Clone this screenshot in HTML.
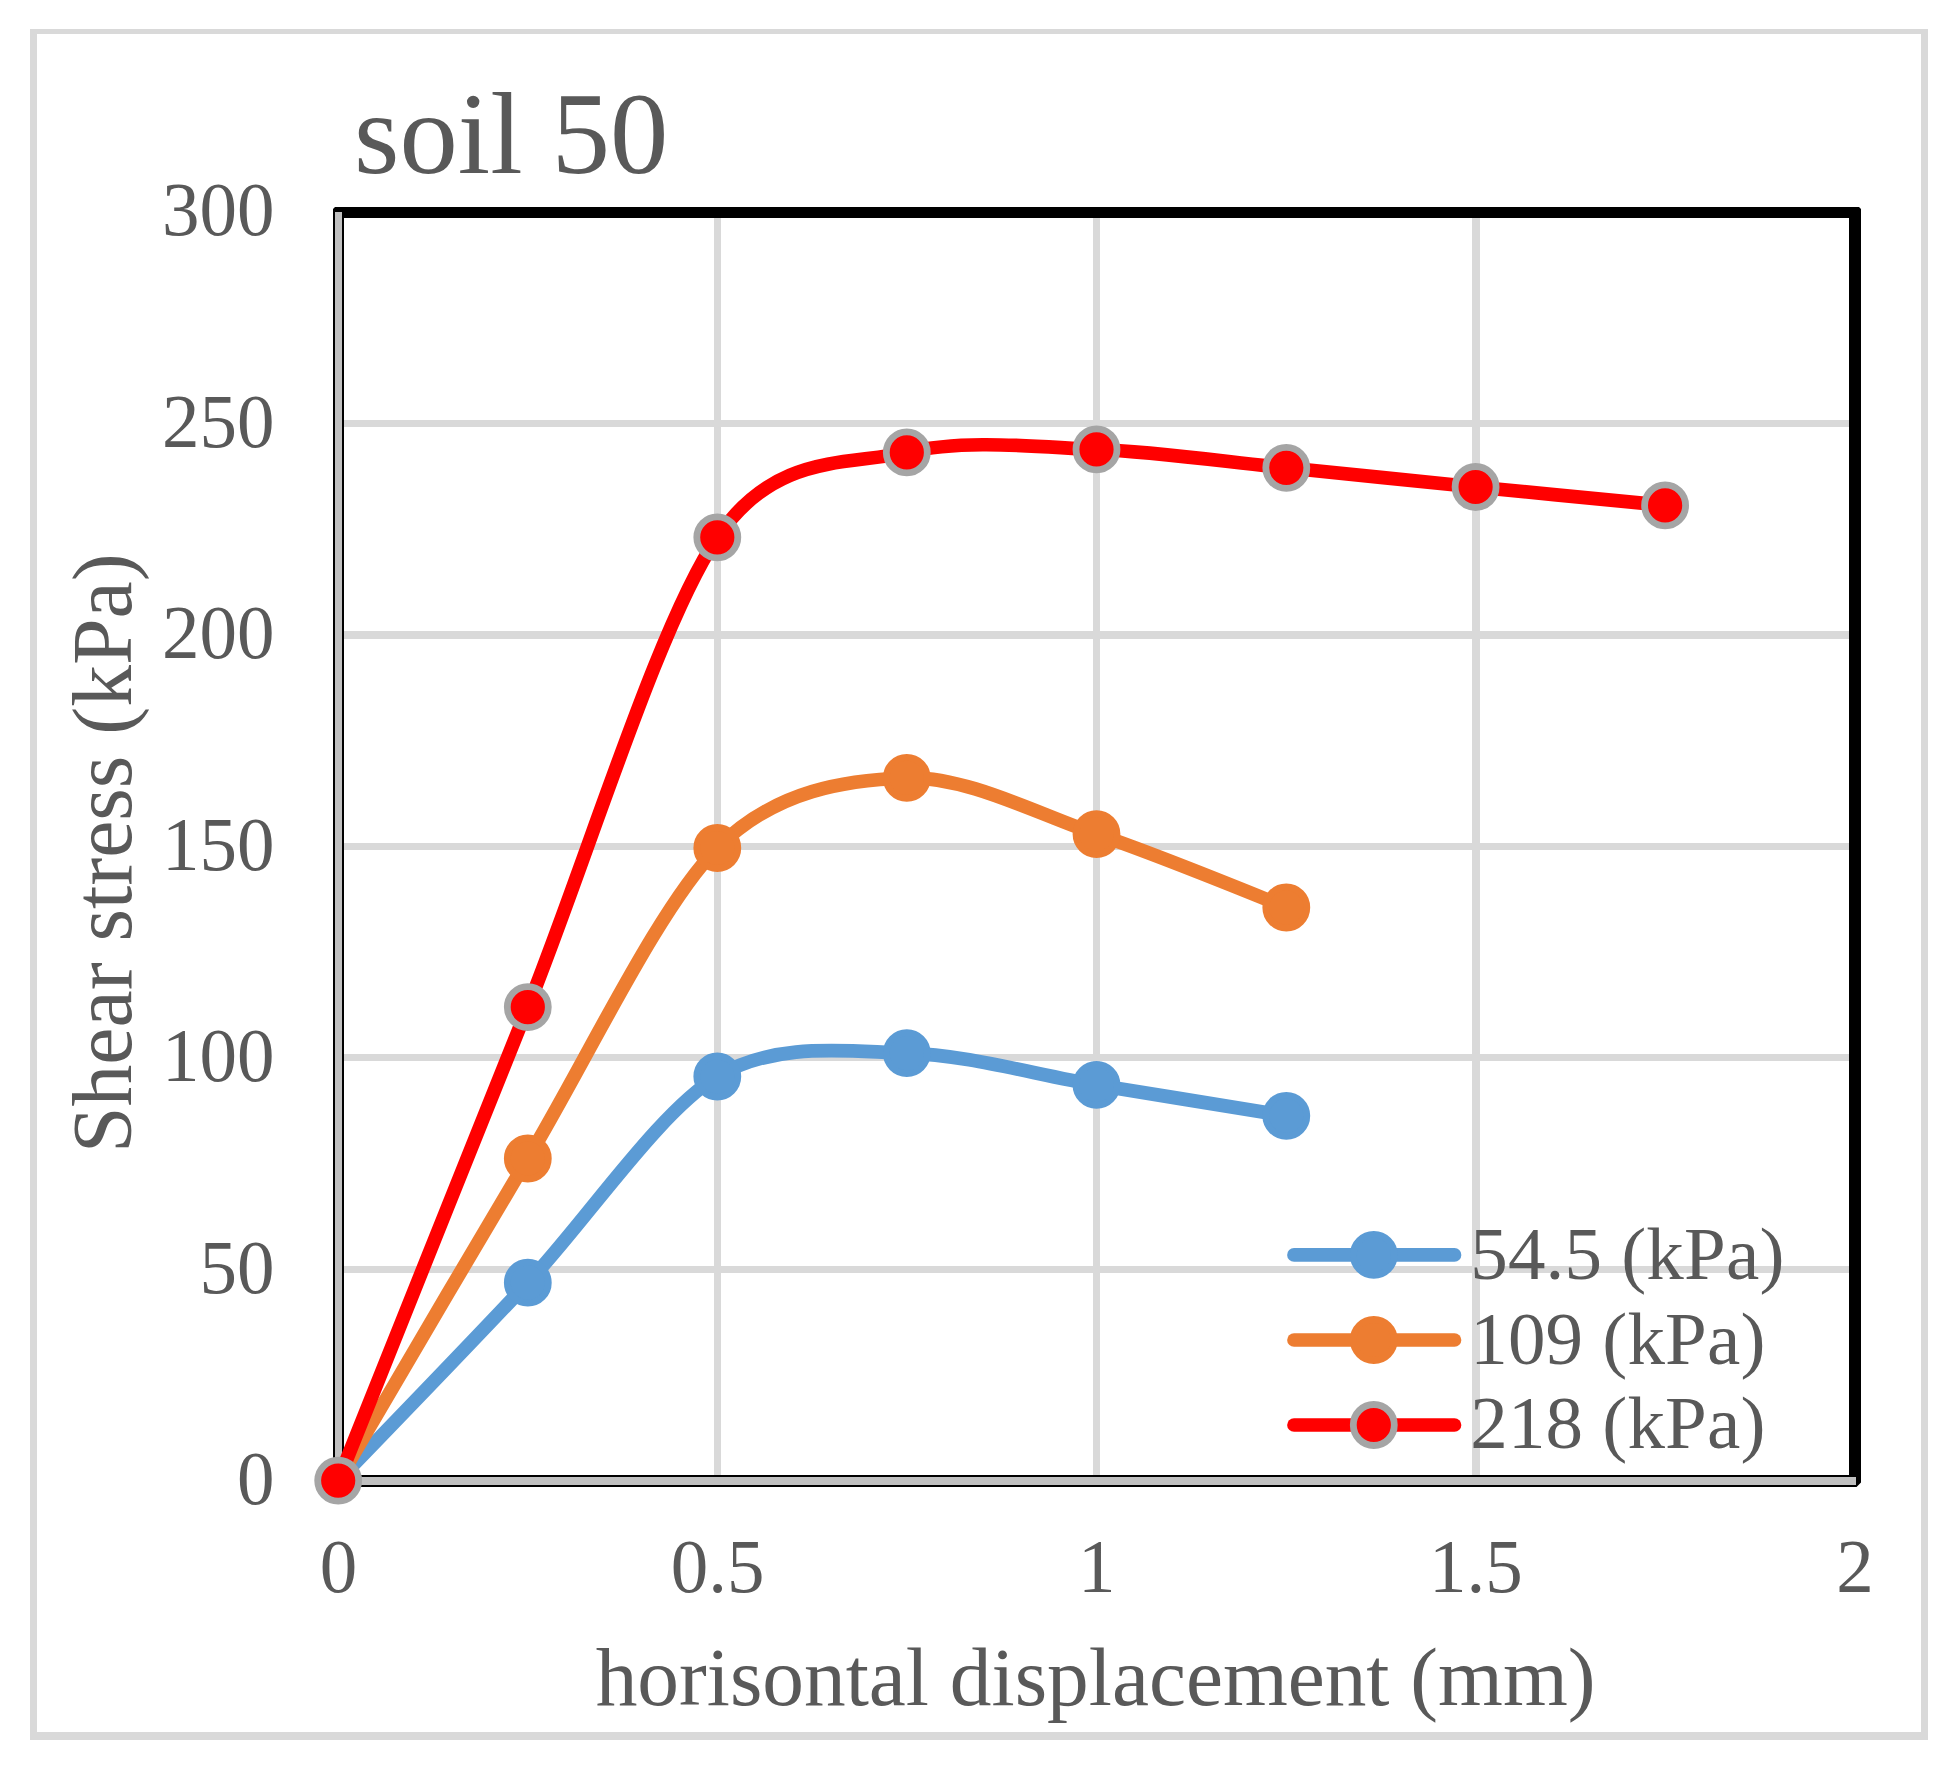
<!DOCTYPE html>
<html lang="en">
<head>
<meta charset="utf-8">
<title>soil 50 - shear stress vs horisontal displacement</title>
<style>
html,body{margin:0;padding:0;background:#ffffff;}
body{width:1955px;height:1765px;overflow:hidden;}
svg{display:block;}
text{white-space:pre;}
</style>
</head>
<body>
<svg width="1955" height="1765" viewBox="0 0 1955 1765" role="img" aria-label="soil 50: shear stress versus horisontal displacement">
<rect x="0" y="0" width="1955" height="1765" fill="#ffffff"/>
<g fill="#d9d9d9">
<rect x="30" y="29" width="1898" height="5"/>
<rect x="30" y="1732" width="1898" height="8"/>
<rect x="30" y="29" width="7" height="1711"/>
<rect x="1921" y="29" width="7" height="1711"/>
</g>
<g fill="#d9d9d9">
<rect x="344" y="420" width="1505" height="7"/>
<rect x="344" y="631" width="1505" height="8"/>
<rect x="344" y="843" width="1505" height="7"/>
<rect x="344" y="1054" width="1505" height="7"/>
<rect x="344" y="1266" width="1505" height="7"/>
<rect x="714" y="218" width="7" height="1257"/>
<rect x="1093" y="218" width="7" height="1257"/>
<rect x="1472" y="218" width="8" height="1257"/>
</g>
<path d="M335 207 H1859 L1861 209 V1482.5 L1856.5 1487 H335 L333 1485 V209 Z M344 218 V1475 H1849 V218 Z" fill="#000" fill-rule="evenodd"/>
<rect x="335" y="212" width="7" height="1273" fill="#c0c0c0"/>
<rect x="335" y="1477" width="1521" height="8" fill="#c0c0c0"/>
<line x1="1294.0" y1="1254.9" x2="1454.5" y2="1254.9" stroke="#5b9bd5" stroke-width="13.7" stroke-linecap="round"/>
<circle cx="1373.8" cy="1254.9" r="20.5" fill="#5b9bd5" stroke="#5b9bd5" stroke-width="6.8"/>
<line x1="1294.0" y1="1340.0" x2="1454.5" y2="1340.0" stroke="#ed7d31" stroke-width="13.7" stroke-linecap="round"/>
<circle cx="1373.8" cy="1340.0" r="20.5" fill="#ed7d31" stroke="#ed7d31" stroke-width="6.8"/>
<line x1="1294.0" y1="1425.0" x2="1454.5" y2="1425.0" stroke="#ff0000" stroke-width="13.7" stroke-linecap="round"/>
<circle cx="1373.8" cy="1425.0" r="20.5" fill="#ff0000" stroke="#a5a5a5" stroke-width="6.8"/>
<path d="M338.20 1480.60 C338.20 1480.60 469.04 1345.34 527.80 1282.70 C586.56 1220.06 658.55 1112.09 717.30 1076.50 C776.04 1040.91 848.02 1051.80 906.80 1053.10 C965.58 1054.40 1037.68 1075.18 1096.50 1084.90 C1155.32 1094.62 1286.30 1115.80 1286.30 1115.80" fill="none" stroke="#5b9bd5" stroke-width="13.7" stroke-linecap="round" stroke-linejoin="round"/>
<circle cx="527.8" cy="1282.7" r="20.5" fill="#5b9bd5" stroke="#5b9bd5" stroke-width="6.8"/>
<circle cx="717.3" cy="1076.5" r="20.5" fill="#5b9bd5" stroke="#5b9bd5" stroke-width="6.8"/>
<circle cx="906.8" cy="1053.1" r="20.5" fill="#5b9bd5" stroke="#5b9bd5" stroke-width="6.8"/>
<circle cx="1096.5" cy="1084.9" r="20.5" fill="#5b9bd5" stroke="#5b9bd5" stroke-width="6.8"/>
<circle cx="1286.3" cy="1115.8" r="20.5" fill="#5b9bd5" stroke="#5b9bd5" stroke-width="6.8"/>
<path d="M338.20 1480.60 C338.20 1480.60 469.04 1256.55 527.80 1158.50 C586.56 1060.45 658.55 906.99 717.30 848.00 C776.04 789.01 848.02 780.05 906.80 777.90 C965.58 775.75 1037.68 814.01 1096.50 834.10 C1155.32 854.19 1286.30 907.50 1286.30 907.50" fill="none" stroke="#ed7d31" stroke-width="13.7" stroke-linecap="round" stroke-linejoin="round"/>
<circle cx="527.8" cy="1158.5" r="20.5" fill="#ed7d31" stroke="#ed7d31" stroke-width="6.8"/>
<circle cx="717.3" cy="848.0" r="20.5" fill="#ed7d31" stroke="#ed7d31" stroke-width="6.8"/>
<circle cx="906.8" cy="777.9" r="20.5" fill="#ed7d31" stroke="#ed7d31" stroke-width="6.8"/>
<circle cx="1096.5" cy="834.1" r="20.5" fill="#ed7d31" stroke="#ed7d31" stroke-width="6.8"/>
<circle cx="1286.3" cy="907.5" r="20.5" fill="#ed7d31" stroke="#ed7d31" stroke-width="6.8"/>
<path d="M338.20 1480.60 C338.20 1480.60 469.04 1153.31 527.80 1007.10 C586.56 860.89 658.55 623.28 717.30 537.30 C775.87 451.57 848.02 466.02 906.80 452.40 C965.58 438.78 1037.68 447.01 1096.50 449.40 C1155.32 451.79 1227.54 461.97 1286.30 467.80 C1345.06 473.63 1416.89 481.17 1475.60 487.00 C1534.31 492.83 1665.10 505.40 1665.10 505.40" fill="none" stroke="#ff0000" stroke-width="13.7" stroke-linecap="round" stroke-linejoin="round"/>
<circle cx="338.2" cy="1480.6" r="20.5" fill="#ff0000" stroke="#a5a5a5" stroke-width="6.8"/>
<circle cx="527.8" cy="1007.1" r="20.5" fill="#ff0000" stroke="#a5a5a5" stroke-width="6.8"/>
<circle cx="717.3" cy="537.3" r="20.5" fill="#ff0000" stroke="#a5a5a5" stroke-width="6.8"/>
<circle cx="906.8" cy="452.4" r="20.5" fill="#ff0000" stroke="#a5a5a5" stroke-width="6.8"/>
<circle cx="1096.5" cy="449.4" r="20.5" fill="#ff0000" stroke="#a5a5a5" stroke-width="6.8"/>
<circle cx="1286.3" cy="467.8" r="20.5" fill="#ff0000" stroke="#a5a5a5" stroke-width="6.8"/>
<circle cx="1475.6" cy="487.0" r="20.5" fill="#ff0000" stroke="#a5a5a5" stroke-width="6.8"/>
<circle cx="1665.1" cy="505.4" r="20.5" fill="#ff0000" stroke="#a5a5a5" stroke-width="6.8"/>
<g font-family="'Liberation Serif',serif" fill="#595959">
<text x="354.0" y="172.6" font-size="116.7">soil 50</text>
<text transform="translate(274.5 1503.9) scale(1 1.02)" font-size="75" text-anchor="end">0</text>
<text transform="translate(274.5 1292.5) scale(1 1.02)" font-size="75" text-anchor="end">50</text>
<text transform="translate(274.5 1081.1) scale(1 1.02)" font-size="75" text-anchor="end">100</text>
<text transform="translate(274.5 869.6) scale(1 1.02)" font-size="75" text-anchor="end">150</text>
<text transform="translate(274.5 658.2) scale(1 1.02)" font-size="75" text-anchor="end">200</text>
<text transform="translate(274.5 446.8) scale(1 1.02)" font-size="75" text-anchor="end">250</text>
<text transform="translate(274.5 235.4) scale(1 1.02)" font-size="75" text-anchor="end">300</text>
<text transform="translate(338.5 1591.8) scale(1 1.02)" font-size="75" text-anchor="middle">0</text>
<text transform="translate(717.6 1591.8) scale(1 1.02)" font-size="75" text-anchor="middle">0.5</text>
<text transform="translate(1096.8 1591.8) scale(1 1.02)" font-size="75" text-anchor="middle">1</text>
<text transform="translate(1475.9 1591.8) scale(1 1.02)" font-size="75" text-anchor="middle">1.5</text>
<text transform="translate(1855.0 1591.8) scale(1 1.02)" font-size="75" text-anchor="middle">2</text>
<text x="1470.2" y="1279.2" font-size="75" letter-spacing="0.2">54.5 (kPa)</text>
<text x="1470.2" y="1363.8" font-size="75" letter-spacing="0.2">109 (kPa)</text>
<text x="1470.2" y="1448.3" font-size="75" letter-spacing="0.2">218 (kPa)</text>
<text x="1095.6" y="1704.8" font-size="83.35" text-anchor="middle">horisontal displacement (mm)</text>
<text transform="translate(131.4 853.2) rotate(-90)" font-size="83.7" text-anchor="middle">Shear stress (kPa)</text>
</g>
</svg>
</body>
</html>
